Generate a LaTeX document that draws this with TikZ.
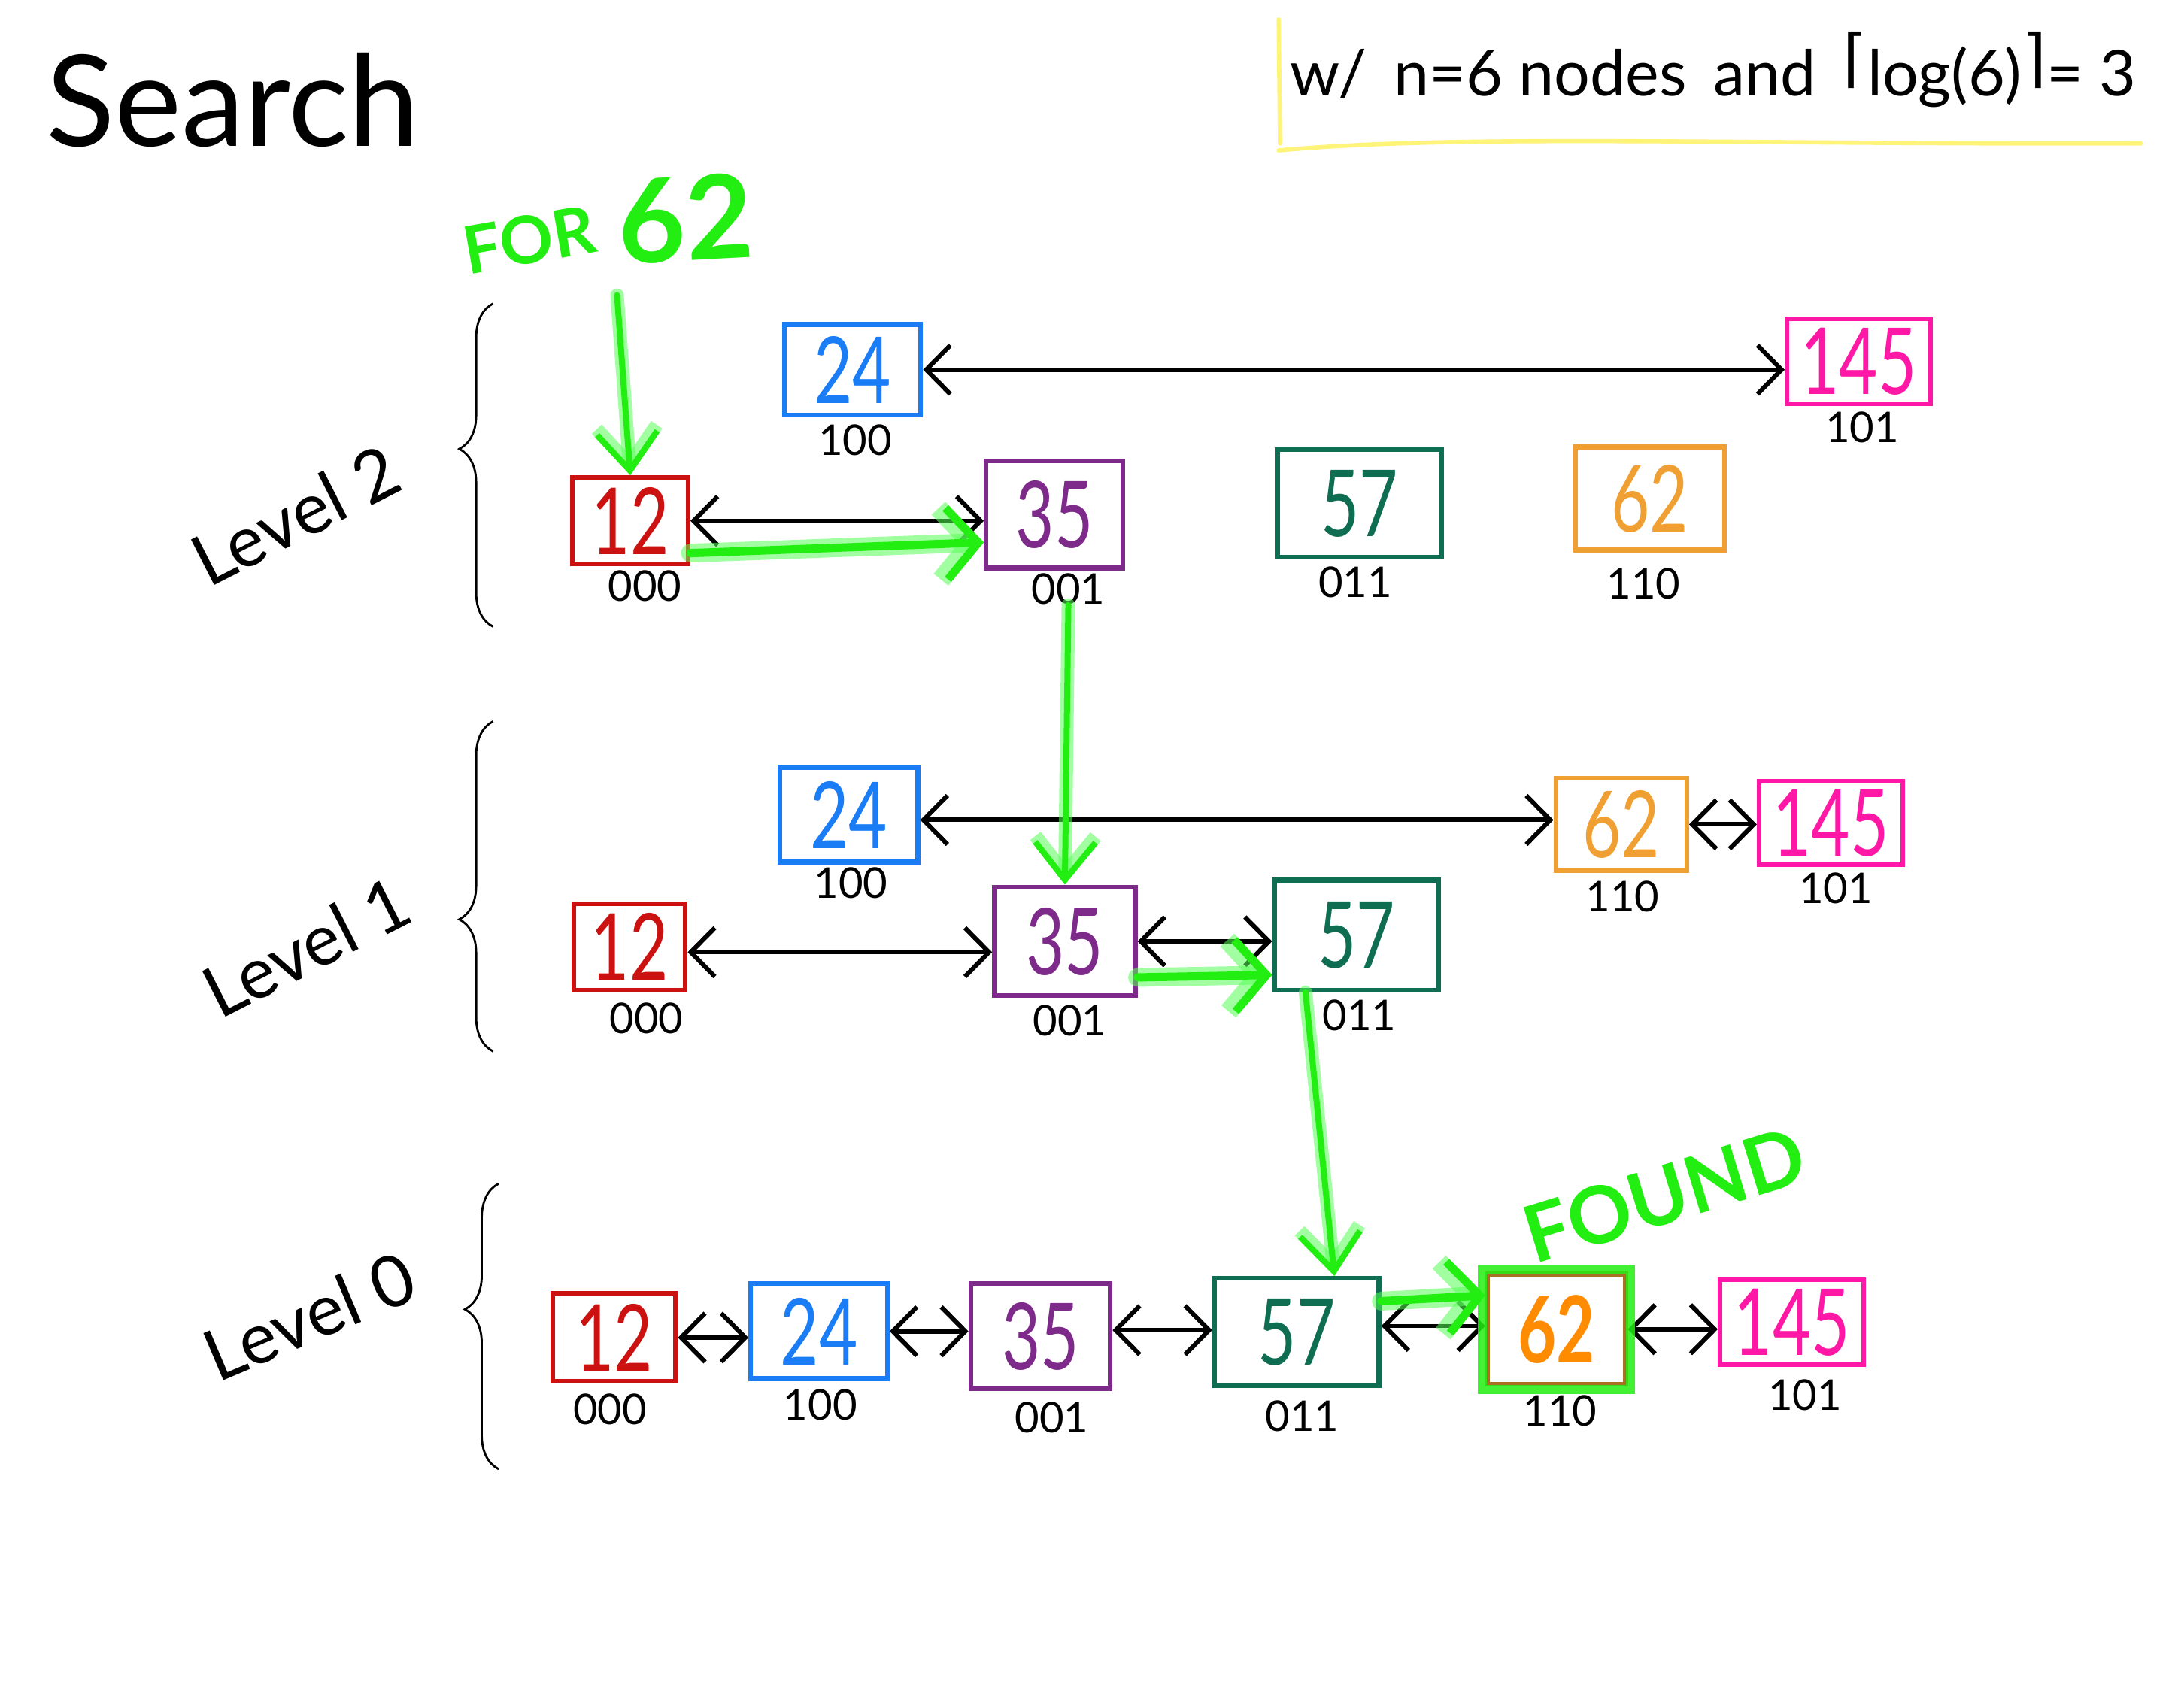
\documentclass[tikz,border=0pt]{standalone}
\usepackage{fontspec}
\setmainfont{Lato}
\newfontfamily\hand[FakeStretch=0.72]{Lato}
\newfontfamily\dv{DejaVu Sans}
\usetikzlibrary{arrows.meta,decorations.pathreplacing,calc,fit}
\definecolor{cred}{HTML}{CC1111}
\definecolor{cblue}{HTML}{1A7DF5}
\definecolor{cpur}{HTML}{7D2A8A}
\definecolor{cteal}{HTML}{0F6E52}
\definecolor{corg}{HTML}{F0A032}
\definecolor{cmag}{HTML}{FF18A6}
\definecolor{gcore}{HTML}{22EE11}
\definecolor{ghl}{HTML}{55FF55}
\definecolor{cyel}{HTML}{FFF47A}
\definecolor{forg}{HTML}{FF8C00}
\begin{document}
\begin{tikzpicture}[x=0.01852cm,y=-0.01852cm,
  bx/.style={draw, line width=1.8pt, inner sep=0pt, font=\hand\fontsize{35}{35}\selectfont},
  sz/.style 2 args={minimum width={#1*0.01852cm}, minimum height={#2*0.01852cm}},
  rbx/.style={bx, draw=cred, text=cred},
  bbx/.style={bx, draw=cblue, text=cblue},
  pbx/.style={bx, draw=cpur, text=cpur},
  tbx/.style={bx, draw=cteal, text=cteal},
  obx/.style={bx, draw=corg, text=corg},
  mbx/.style={bx, draw=cmag, text=cmag},
  lab/.style={inner sep=0pt, font=\fontsize{16}{16}\selectfont},
  biarr/.style={line width=1.7pt, line cap=round, {Straight Barb[length=3.2mm,width=6.5mm]}-{Straight Barb[length=3.2mm,width=6.5mm]}},
  garr/.style={draw=gcore, line width=1.1mm, line cap=round, -{Straight Barb[length=4.2mm,width=9.5mm]},
     preaction={draw=ghl, line width=2.5mm, opacity=0.55, line cap=round, -{Straight Barb[length=4.2mm,width=9.5mm]}}},
  gvarr/.style={draw=gcore, line width=0.8mm, line cap=round, -{Straight Barb[length=5mm,width=8mm]},
     preaction={draw=ghl, line width=1.8mm, opacity=0.55, line cap=round, -{Straight Barb[length=5mm,width=8mm]}}},
  brc/.style={line width=0.8pt, decorate, decoration={brace, amplitude=0.45cm, aspect=#1}},
  lvl/.style={font=\fontsize{27}{27}\selectfont, inner sep=0pt},
  gtxt/.style={text=gcore, font=\bfseries\fontsize{#1}{#1}\selectfont, inner sep=0pt}
]
\useasboundingbox (0,0) rectangle (1568,1212);
\fill[white] (0,0) rectangle (1568,1212);

% title and note
\node[font=\fontsize{48}{48}\selectfont, inner sep=0pt] (title) at (167,72) {Search};
\draw[cyel, line width=1.6pt, line cap=round] (918,14) -- (919,103);
\draw[cyel, line width=1.6pt, line cap=round] (918,108) .. controls (1050,96) and (1250,104) .. (1537,103);
\node[font=\fontsize{24}{24}\selectfont, inner sep=0pt] (info) at (1230,50)
  {w/\, n=6 nodes\, and\, {\dv\raisebox{0.25em}{⌈}}log(6){\dv\raisebox{0.25em}{⌉}}= 3};

% search labels
\node[gtxt=25, rotate=10] (for) at (380,172) {FOR};
\node[gtxt=44, rotate=3] (f62) at (492,157) {62};
\node[gtxt=30, rotate=17] (found) at (1195,858) {FOUND};

% braces and level names
\draw[brc=0.55] (354,450) -- (354,218);
\draw[brc=0.40] (354,755) -- (354,518);
\draw[brc=0.56] (358,1055) -- (358,850);
\node[lvl, rotate=27] (lv2) at (212,370) {Level 2};
\node[lvl, rotate=27] (lv1) at (220,680) {Level 1};
\node[lvl, rotate=23] (lv0) at (222,945) {Level 0};

% Level 2
\node[bbx, sz={98}{65}] (L2-24) at (612,265.5) {24};
\node[mbx, sz={103}{61}] (L2-145) at (1334.5,259.5) {145};
\node[rbx, sz={83}{62}] (L2-12) at (452.5,374) {12};
\node[pbx, sz={98}{77}] (L2-35) at (757,369.5) {35};
\node[tbx, sz={118}{77}] (L2-57) at (976,361.5) {57};
\node[obx, sz={107}{74}] (L2-62) at (1184.5,358) {62};
\node[lab] (L2-24l) at (614,316) {100};
\node[lab] (L2-145l) at (1337,307) {101};
\node[lab] (L2-12l) at (463,421) {000};
\node[lab] (L2-35l) at (767,423) {001};
\node[lab] (L2-57l) at (973,418) {011};
\node[lab] (L2-62l) at (1180,419) {110};
\draw[biarr] (L2-24.east) -- (L2-24.east -| L2-145.west);
\draw[biarr] (L2-12.east) -- (L2-12.east -| L2-35.west);

% Level 1
\node[bbx, sz={99}{68}] (L1-24) at (609.5,585) {24};
\node[obx, sz={94}{66}] (L1-62) at (1164,592) {62};
\node[mbx, sz={103}{60}] (L1-145) at (1314.5,591) {145};
\node[rbx, sz={80}{62}] (L1-12) at (452,680) {12};
\node[pbx, sz={101}{78}] (L1-35) at (764.5,676) {35};
\node[tbx, sz={118}{79}] (L1-57) at (974,671.5) {57};
\node[lab] (L1-24l) at (611,634) {100};
\node[lab] (L1-62l) at (1165,644) {110};
\node[lab] (L1-145l) at (1318,638) {101};
\node[lab] (L1-12l) at (464,731) {000};
\node[lab] (L1-35l) at (768,733) {001};
\node[lab] (L1-57l) at (976,729) {011};
\draw[biarr] ([yshift=-0.07cm]L1-24.east) -- ([yshift=-0.07cm]L1-24.east -| L1-62.west);
\draw[biarr] (L1-62.east) -- (L1-62.east -| L1-145.west);
\draw[biarr] ([yshift=-0.07cm]L1-12.east) -- ([yshift=-0.07cm]L1-12.east -| L1-35.west);
\draw[biarr] (L1-35.east) -- (L1-35.east -| L1-57.west);

% Level 0
\node[rbx, sz={88}{63}] (L0-12) at (441,960.5) {12};
\node[bbx, sz={98}{68}] (L0-24) at (588,956) {24};
\node[pbx, sz={100}{75}] (L0-35) at (747,959.5) {35};
\node[tbx, sz={118}{77}] (L0-57) at (931,956.5) {57};
\node[bx, sz={99}{79}, draw=corg!70!black, text=forg, font=\hand\bfseries\fontsize{35}{35}\selectfont] (L0-62) at (1117.5,954.5) {62};
\node[mbx, sz={103}{61}] (L0-145) at (1286.5,949.5) {145};
\node[lab] (L0-12l) at (438,1012) {000};
\node[lab] (L0-24l) at (589,1009) {100};
\node[lab] (L0-35l) at (755,1018) {001};
\node[lab] (L0-57l) at (935,1017) {011};
\node[lab] (L0-62l) at (1120,1013) {110};
\node[lab] (L0-145l) at (1296,1002) {101};
\draw[biarr] (L0-12.east) -- (L0-12.east -| L0-24.west);
\draw[biarr] (L0-24.east) -- (L0-24.east -| L0-35.west);
\draw[biarr] ([yshift=0.08cm]L0-35.east) -- ([yshift=0.08cm]L0-35.east -| L0-57.west);
\draw[biarr] ([yshift=0.08cm]L0-57.east) -- ([yshift=0.08cm]L0-57.east -| L0-62.west);
\draw[biarr] (L0-62.east) -- (L0-62.east -| L0-145.west);
\node[draw=gcore, line width=1.2mm, fit=(L0-62), inner sep=1pt, opacity=0.85] (hl62) {};

% search path
\coordinate (gs) at (443,212);
\draw[gvarr] (gs) -- (L2-12.north);
\draw[garr] ([yshift=-0.43cm]L2-12.east) -- ([yshift=-0.37cm]L2-35.west);
\draw[gvarr] (L2-35l.south) -- (L1-35.north);
\draw[garr] ([yshift=-0.48cm]L1-35.east) -- ([yshift=-0.53cm]L1-57.west);
\draw[gvarr] ([xshift=-0.68cm]L1-57.south) -- ([xshift=0.5cm]L0-57.north);
\draw[garr] ([yshift=0.41cm]L0-57.east) -- ([yshift=0.45cm]L0-62.west);
\end{tikzpicture}
\end{document}
